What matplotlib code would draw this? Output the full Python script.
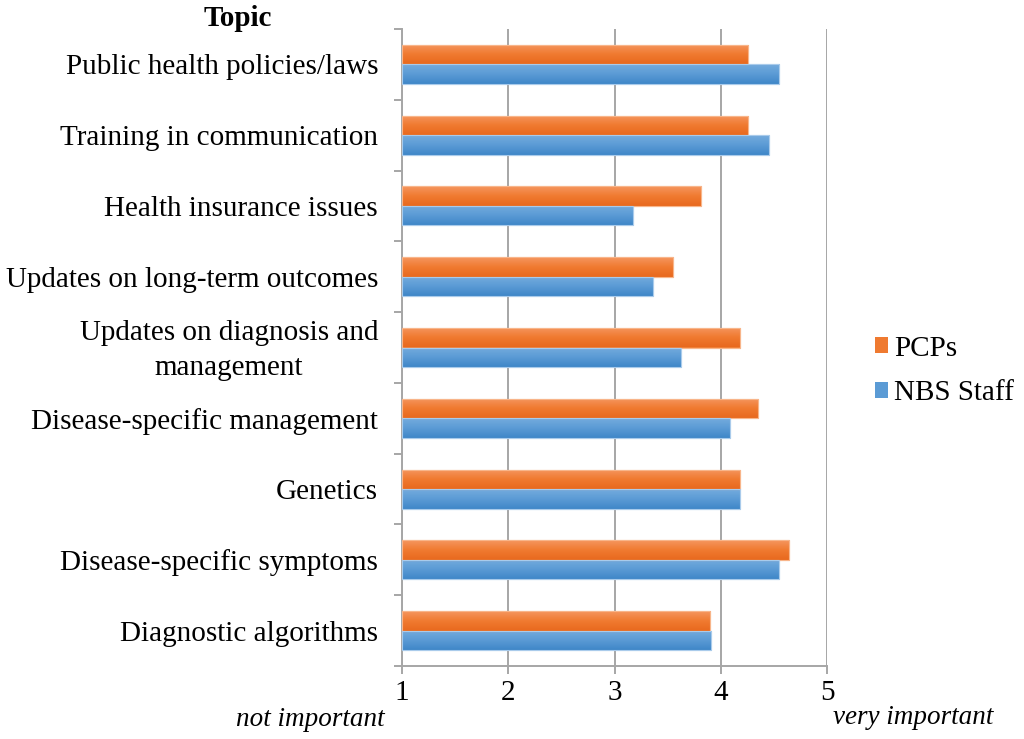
import matplotlib
matplotlib.use("Agg")
import matplotlib.pyplot as plt
import matplotlib.transforms as mtransforms
import numpy as np
from matplotlib.patches import Patch
from matplotlib.colors import LinearSegmentedColormap

categories = ["Public health policies/laws", "Training in communication",
              "Health insurance issues", "Updates on long-term outcomes",
              "Updates on diagnosis and\nmanagement", "Disease-specific management",
              "Genetics", "Disease-specific symptoms", "Diagnostic algorithms"]
pcps = [4.26, 4.26, 3.81, 3.55, 4.18, 4.35, 4.18, 4.64, 3.90]
nbs = [4.55, 4.45, 3.17, 3.36, 3.63, 4.09, 4.18, 4.55, 3.91]
series_names = ["PCPs", "NBS Staff"]
xticks = [1, 2, 3, 4, 5]

plt.rcParams['font.family'] = ['Liberation Serif', 'DejaVu Serif']

fig = plt.figure(figsize=(10.24, 7.39), dpi=100)
ax = fig.add_axes([402/1024, 73/739, 425/1024, 637/739])

grid_c = "#a6a6a6"
orange_cm = LinearSegmentedColormap.from_list("o", ["#f5965f", "#f07a30", "#e8691e"])
blue_cm = LinearSegmentedColormap.from_list("b", ["#74abdd", "#5b9bd5", "#3f87c8"])

y = np.arange(len(categories))
h = 0.275
b1 = ax.barh(y - h/2, np.array(pcps) - 1, left=1, height=h, color="#ef7a30",
             edgecolor="#f8b58a", linewidth=0.8, zorder=3)
b2 = ax.barh(y + h/2, np.array(nbs) - 1, left=1, height=h, color="#5b9bd5",
             edgecolor="#a9cbeb", linewidth=0.8, zorder=3)

grad = np.linspace(0, 1, 64).reshape(-1, 1)
for bars, cm in ((b1, orange_cm), (b2, blue_cm)):
    for r in bars:
        x0, y0 = r.get_x(), r.get_y()
        w, hh = r.get_width(), r.get_height()
        im = ax.imshow(grad, cmap=cm, aspect='auto',
                       extent=(x0, x0 + w, y0 + hh, y0), origin='upper',
                       zorder=3.5, interpolation='bilinear')
        im.set_clip_path(r)
        r2 = plt.Rectangle((x0, y0), w, hh, fill=False, edgecolor=r.get_edgecolor(),
                           linewidth=0.8, zorder=4)
        ax.add_patch(r2)

ax.set_xlim(1, 5)
ax.set_ylim(len(categories) - 0.5, -0.5)
ax.set_xticks(xticks)
ax.set_xticklabels([str(t) for t in xticks], fontsize=21)
ax.xaxis.grid(True, color=grid_c, linewidth=1.4, zorder=0)
ax.set_axisbelow(True)

ax.set_yticks(np.arange(-0.5, len(categories), 1.0))
ax.set_yticklabels([])
ax.tick_params(axis='y', which='major', length=6, width=1.4, color=grid_c, direction='out')
ax.tick_params(axis='x', length=6, width=1.4, color=grid_c, direction='out', pad=4)

offset = mtransforms.ScaledTranslation(-24/100, -3/100, fig.dpi_scale_trans)
ytrans = ax.get_yaxis_transform() + offset
for yi, cat in zip(y, categories):
    ax.text(0, yi, cat, transform=ytrans, fontsize=21, ha='right', va='center',
            multialignment='center', linespacing=1.42)

for s in ['top', 'right']:
    ax.spines[s].set_visible(False)
for s in ['left', 'bottom']:
    ax.spines[s].set_color(grid_c)
    ax.spines[s].set_linewidth(1.4)

fig.text(238/1024, 1 - 18/739, "Topic", fontsize=21, fontweight='bold', ha='center', va='center')
fig.text(385/1024, 1 - 719/739, "not important", fontsize=19.5, style='italic', ha='right', va='center')
fig.text(833/1024, 1 - 717/739, "very important", fontsize=19.5, style='italic', ha='left', va='center')

handles = [Patch(facecolor="#ef7a30"), Patch(facecolor="#5b9bd5")]
fig.legend(handles, series_names, loc='center left', bbox_to_anchor=(875/1024, 1 - 371/739),
           frameon=False, fontsize=21, handlelength=0.45, handleheight=0.45,
           handletextpad=0.2, labelspacing=0.65, borderpad=0, borderaxespad=0)

fig.savefig("out.png", dpi=100)
